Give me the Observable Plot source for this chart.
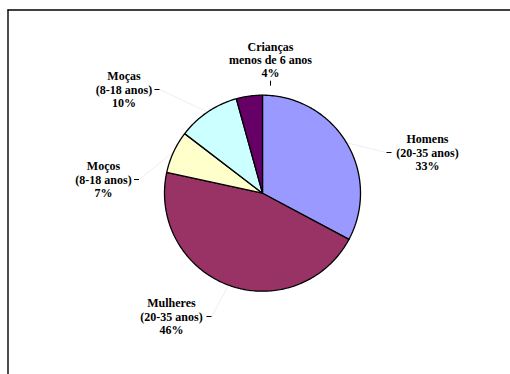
<!DOCTYPE html>
<html><head><meta charset="utf-8">
<script src="https://cdn.jsdelivr.net/npm/d3@7"></script>
<script src="https://cdn.jsdelivr.net/npm/@observablehq/plot@0.6"></script>
<style>html,body{margin:0;padding:0;background:#fff;} svg{display:block}</style>
</head><body><div id="chart"></div>
<script>
// ---- data ----
const categories = ["Homens (20-35 anos)", "Mulheres (20-35 anos)", "Moços (8-18 anos)", "Moças (8-18 anos)", "Crianças menos de 6 anos"];
const labelNames = [["Homens", "(20-35 anos)"], ["Mulheres", "(20-35 anos)"], ["Moços", "(8-18 anos)"], ["Moças", "(8-18 anos)"], ["Crianças", "menos de 6 anos"]];
const shares = [32.8, 45.6, 7.0, 10.3, 4.3];
const colors = ["#9999FF", "#993366", "#FFFFCC", "#CCFFFF", "#660066"];

// ---- layout (pixels) ----
const W = 510, H = 374;
const cx = 262, cy = 192.7, R = 98;
// label block centre and leader-dash position, relative to pie centre
const labelLayout = [
  {tx: 165, ty: -40.7, dx: 126.5, dy: -40.7, vertical: false, leader: true},
  {tx: -91, ty: 123.3, dx: -53.5, dy: 123.3, vertical: false, leader: true},
  {tx: -159, ty: -13.7, dx: -126, dy: -13.7, vertical: false, leader: true},
  {tx: -138.5, ty: -103.7, dx: -105.5, dy: -103.7, vertical: false, leader: true},
  {tx: 8, ty: -133.4, dx: 8, dy: -110, vertical: true, leader: false}
];

// ---- geometry from data ----
const arcs = d3.pie().sort(null).value(d => d)(shares);
const slicePts = [];
arcs.forEach((a, i) => {
  const n = Math.max(2, Math.ceil((a.endAngle - a.startAngle) / (Math.PI / 180)));
  slicePts.push({cat: categories[i], x: cx, y: cy});
  for (let k = 0; k <= n; k++) {
    const t = a.startAngle + (a.endAngle - a.startAngle) * k / n;
    slicePts.push({cat: categories[i], x: cx + R * Math.sin(t), y: cy - R * Math.cos(t)});
  }
  slicePts.push({cat: categories[i], x: cx, y: cy});
});

const labels = arcs.map((a, i) => {
  const L = labelLayout[i];
  const mid = (a.startAngle + a.endAngle) / 2;
  const ex = cx + R * Math.sin(mid), ey = cy - R * Math.cos(mid);
  const dX = cx + L.dx, dY = cy + L.dy;
  const d = L.vertical
    ? {x1: dX, y1: dY - 2.5, x2: dX, y2: dY + 2.5}
    : {x1: dX - 2.5, y1: dY, x2: dX + 2.5, y2: dY};
  const dist1 = Math.hypot(d.x1 - ex, d.y1 - ey), dist2 = Math.hypot(d.x2 - ex, d.y2 - ey);
  const sx = dist1 < dist2 ? d.x1 : d.x2, sy = dist1 < dist2 ? d.y1 : d.y2;
  return {
    text: labelNames[i][0] + "\n" + labelNames[i][1] + "\n" + Math.round(shares[i]) + "%",
    x: cx + L.tx, y: cy + L.ty,
    dash: d, ex, ey, sx, sy, leader: L.leader
  };
});

const chart = Plot.plot({
  width: W, height: H,
  margin: 0,
  x: {domain: [0, W], range: [0, W], axis: null},
  y: {domain: [0, H], range: [0, H], axis: null},
  color: {domain: categories, range: colors},
  style: {background: "#fff"},
  marks: [
    // chart area border (top & left)
    Plot.ruleY([9.5], {x1: 7.5, x2: W, stroke: "#000", strokeWidth: 1.4}),
    Plot.ruleX([7.5], {y1: 9.5, y2: H, stroke: "#000", strokeWidth: 1.4}),
    // leader lines
    Plot.link(labels.filter(d => d.leader), {x1: "sx", y1: "sy", x2: "ex", y2: "ey", stroke: "#e2e2e2", strokeWidth: 0.6}),
    Plot.link(labels, {x1: d => d.dash.x1, y1: d => d.dash.y1, x2: d => d.dash.x2, y2: d => d.dash.y2, stroke: "#000", strokeWidth: 1}),
    // pie slices
    Plot.line(slicePts, {x: "x", y: "y", z: "cat", fill: "cat", stroke: "#000", strokeWidth: 1.3, strokeLinejoin: "miter"}),
    // labels
    Plot.text(labels, {x: "x", y: "y", text: "text", fontSize: 12, fontWeight: "bold", fontFamily: "Liberation Serif", lineHeight: 1.11, fill: "#000", textAnchor: "middle"})
  ]
});
document.getElementById("chart").appendChild(chart);
</script>
</body></html>
